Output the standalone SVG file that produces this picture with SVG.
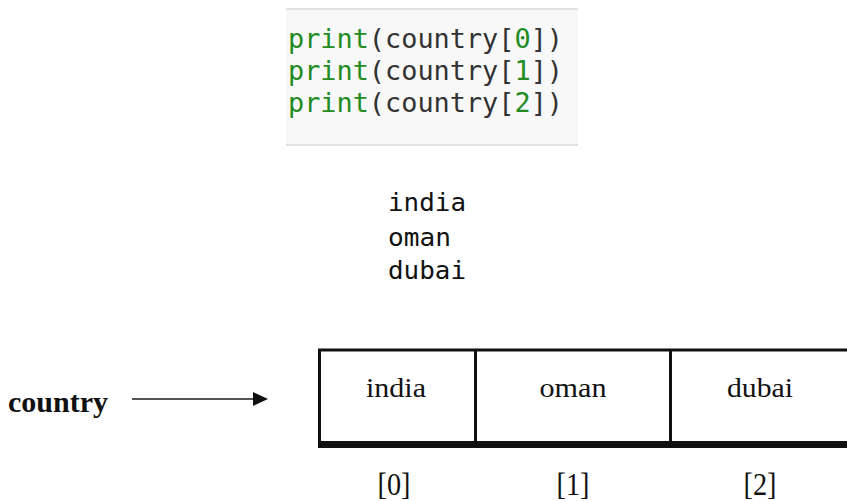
<svg xmlns="http://www.w3.org/2000/svg" width="847" height="501" viewBox="0 0 847 501">
<style>
.code{font-family:"DejaVu Sans Mono","Liberation Mono",monospace;font-size:26px;fill:#333}
.kw{fill:#228b22}
.out{font-family:"DejaVu Sans Mono","Liberation Mono",monospace;font-size:25px;fill:#111}
.cell{font-family:"Liberation Serif","Times New Roman",serif;font-size:28px;fill:#111;text-anchor:middle}
.idx{font-family:"Liberation Serif","Times New Roman",serif;font-size:31px;fill:#111;text-anchor:middle}
.lbl{font-family:"Liberation Serif","Times New Roman",serif;font-size:30px;font-weight:bold;fill:#111}
.edge{stroke:#111;stroke-width:3;fill:none}
</style>
<rect width="847" height="501" fill="#fff"/>
<g id="code">
<rect x="286" y="8" width="292" height="138" fill="#f8f8f8"/>
<line x1="286" y1="9" x2="578" y2="9" stroke="#e2e2e2" stroke-width="2"/>
<line x1="286" y1="145" x2="578" y2="145" stroke="#e2e2e2" stroke-width="2"/>
<text class="code" x="288" y="48" textLength="275" lengthAdjust="spacingAndGlyphs"><tspan class="kw">print</tspan>(country[<tspan class="kw">0</tspan>])</text>
<text class="code" x="288" y="80" textLength="275" lengthAdjust="spacingAndGlyphs"><tspan class="kw">print</tspan>(country[<tspan class="kw">1</tspan>])</text>
<text class="code" x="288" y="112" textLength="275" lengthAdjust="spacingAndGlyphs"><tspan class="kw">print</tspan>(country[<tspan class="kw">2</tspan>])</text>
</g>
<g id="output">
<text class="out" x="388" y="211" textLength="78" lengthAdjust="spacingAndGlyphs">india</text>
<text class="out" x="388" y="246" textLength="63" lengthAdjust="spacingAndGlyphs">oman</text>
<text class="out" x="388" y="279" textLength="78" lengthAdjust="spacingAndGlyphs">dubai</text>
</g>
<g id="label">
<text class="lbl" x="8" y="412" textLength="100" lengthAdjust="spacingAndGlyphs">country</text>
</g>
<g id="connectors">
<line x1="132" y1="399" x2="255" y2="399" stroke="#555" stroke-width="2"/>
<polygon points="253,392 268,399 253,406" fill="#111"/>
</g>
<g id="array">
<line class="edge" x1="318" y1="350" x2="847" y2="350"/>
<line class="edge" x1="319.5" y1="349" x2="319.5" y2="448"/>
<line class="edge" x1="475.5" y1="350" x2="475.5" y2="442"/>
<line class="edge" x1="670.5" y1="350" x2="670.5" y2="442"/>
<rect x="318" y="441" width="529" height="7" fill="#111"/>
</g>
<g id="cell0"><text class="cell" x="396" y="397" textLength="60" lengthAdjust="spacingAndGlyphs">india</text></g>
<g id="cell1"><text class="cell" x="573" y="397" textLength="67" lengthAdjust="spacingAndGlyphs">oman</text></g>
<g id="cell2"><text class="cell" x="760" y="397" textLength="66" lengthAdjust="spacingAndGlyphs">dubai</text></g>
<g id="idx0"><text class="idx" x="394" y="495" textLength="33" lengthAdjust="spacingAndGlyphs">[0]</text></g>
<g id="idx1"><text class="idx" x="573" y="495" textLength="33" lengthAdjust="spacingAndGlyphs">[1]</text></g>
<g id="idx2"><text class="idx" x="760" y="495" textLength="33" lengthAdjust="spacingAndGlyphs">[2]</text></g>
</svg>
